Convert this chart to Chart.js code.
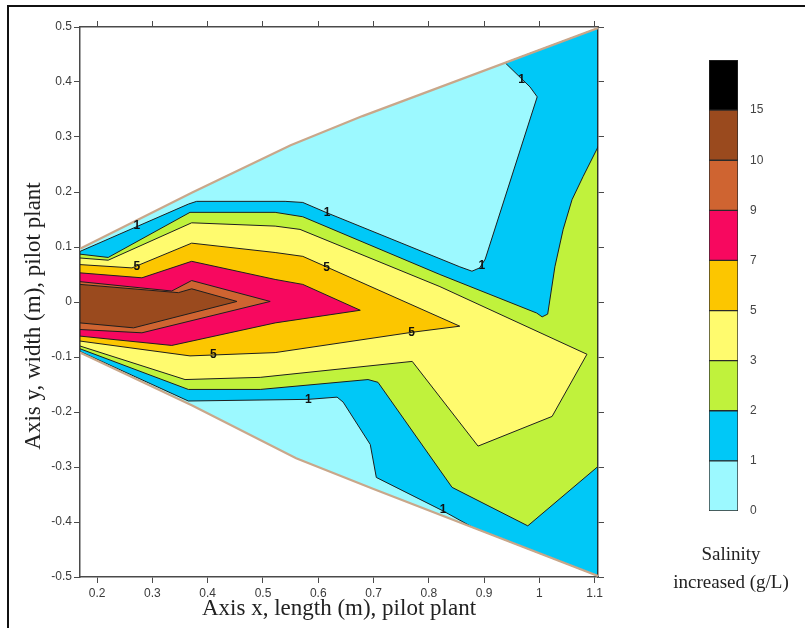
<!DOCTYPE html>
<html>
<head>
<meta charset="utf-8">
<script src="https://cdn.jsdelivr.net/npm/chart.js@4.4.1/dist/chart.umd.min.js"></script>
<style>
  html, body { margin: 0; padding: 0; background: #fff; }
  #wrap { position: relative; width: 805px; height: 628px; overflow: hidden; }
  #frame { position: absolute; left: 7px; top: 5px; width: 900px; height: 700px;
           border-left: 2px solid #111; border-top: 2px solid #111; }
  #main { position: absolute; left: 0; top: 0; }
  #bar  { position: absolute; left: 650px; top: 40px; }
</style>
</head>
<body>
<div id="wrap">
  <div id="frame"></div>
  <canvas id="main" width="805" height="628"></canvas>
  <canvas id="bar" width="155" height="560"></canvas>
</div>
<script>
// ---- axes ----
const xTicks = [0.2, 0.3, 0.4, 0.5, 0.6, 0.7, 0.8, 0.9, 1, 1.1];
const yTicks = [-0.5, -0.4, -0.3, -0.2, -0.1, 0, 0.1, 0.2, 0.3, 0.4, 0.5];
const xRange = [0.169, 1.106];
const yRange = [-0.5, 0.5];

// ---- salinity classes (g/L) ----
const levels = [0, 1, 2, 3, 5, 7, 9, 10, 15];

// plant outline (x, y in m): upper wall, then lower wall back to the inlet
const upperWall = [[0.169, 0.097], [0.372, 0.199], [0.55, 0.285], [0.68, 0.338], [1.106, 0.498]];
const lowerWall = [[1.106, -0.498], [0.70, -0.340], [0.56, -0.284], [0.372, -0.188], [0.169, -0.092]];

// iso-salinity areas: region where salinity >= level
const above1 = [
  [0.938, 0.435], [1.106, 0.498], [1.106, -0.498], [0.88, -0.41],
  [0.826, -0.38], [0.705, -0.319], [0.694, -0.259], [0.645, -0.182],
  [0.634, -0.173], [0.582, -0.177], [0.365, -0.180], [0.169, -0.090],
  [0.169, 0.092], [0.365, 0.178], [0.38, 0.183], [0.54, 0.183],
  [0.572, 0.181], [0.616, 0.162], [0.856, 0.064], [0.878, 0.056],
  [0.892, 0.062], [0.902, 0.078], [0.996, 0.373], [0.983, 0.391]
];
const above2 = [
  [0.169, 0.087], [0.220, 0.081], [0.368, 0.163], [0.522, 0.163],
  [0.572, 0.155], [0.820, 0.050], [0.995, -0.020], [1.005, -0.027],
  [1.015, -0.022], [1.028, 0.064], [1.043, 0.132], [1.059, 0.186],
  [1.079, 0.228], [1.106, 0.282], [1.106, -0.299], [0.979, -0.407],
  [0.842, -0.337], [0.708, -0.146], [0.690, -0.141], [0.495, -0.159],
  [0.365, -0.159], [0.169, -0.085]
];
const above3 = [
  [0.169, 0.080], [0.220, 0.076], [0.371, 0.144], [0.522, 0.138],
  [0.567, 0.132], [0.820, 0.028], [1.086, -0.095], [1.023, -0.208],
  [0.889, -0.262], [0.770, -0.108], [0.495, -0.137], [0.359, -0.141],
  [0.169, -0.080]
];
const above5 = [
  [0.169, 0.068], [0.263, 0.062], [0.371, 0.107], [0.522, 0.090],
  [0.572, 0.083], [0.856, -0.044], [0.770, -0.055], [0.522, -0.092],
  [0.368, -0.098], [0.169, -0.071]
];
const above7 = [
  [0.169, 0.053], [0.281, 0.044], [0.371, 0.074], [0.522, 0.041],
  [0.572, 0.032], [0.676, -0.015], [0.522, -0.038], [0.335, -0.079],
  [0.169, -0.062]
];
const above9 = [
  [0.169, 0.037], [0.335, 0.020], [0.371, 0.039], [0.513, 0.001],
  [0.281, -0.056], [0.169, -0.050]
];
const above10 = [
  [0.169, 0.032], [0.347, 0.017], [0.371, 0.024], [0.453, 0.001],
  [0.266, -0.047], [0.169, -0.038]
];

// contour value labels
const contourLabels = [
  ['1', 0.272, 0.138], ['1', 0.616, 0.163], ['1', 0.968, 0.404],
  ['1', 0.896, 0.066], ['1', 0.582, -0.177], ['1', 0.826, -0.377],
  ['5', 0.272, 0.064], ['5', 0.615, 0.062], ['5', 0.769, -0.056],
  ['5', 0.410, -0.095]
];

// ---- colours ----
const classColors = ['#9cf9ff', '#00c8f7', '#c0f23c', '#fffb6e', '#fcc600',
                     '#f7085f', '#cf6431', '#9a4a1e', '#000000'];

const toXY = pts => pts.map(([x, y]) => ({ x, y }));
const closed = poly => toXY(poly.concat([poly[0]]));

const domain = upperWall.concat(lowerWall);
const areas = [domain, above1, above2, above3, above5, above7, above9, above10];

const datasets = areas.map((poly, i) => ({
  data: closed(poly),
  backgroundColor: classColors[i],
  borderColor: i === 0 ? 'rgba(0,0,0,0)' : '#1e1e1e',
  borderWidth: i === 0 ? 0 : 1,
  fill: 'shape',
  pointRadius: 0,
  tension: 0,
  order: 20 - i
}));
// walls of the plant
[upperWall, lowerWall.slice().reverse()].forEach(wall => {
  datasets.push({
    data: toXY(wall),
    borderColor: '#c9a78a', borderWidth: 2.2, fill: false, pointRadius: 0, order: 0
  });
});

const tickFont = { family: "'Liberation Sans Narrow', 'Liberation Sans', Arial, sans-serif", size: 12 };
const serif = "'Liberation Serif', 'Times New Roman', serif";
const fmt = v => (v === 0 ? '0' : String(v));

function axis(position, values, range, showLabels, fit) {
  return {
    type: 'linear',
    position,
    min: range[0],
    max: range[1],
    afterBuildTicks: s => { s.ticks = values.map(v => ({ value: v })); },
    afterFit: fit,
    ticks: {
      display: showLabels,
      font: tickFont,
      color: '#3a3a3a',
      padding: 2,
      maxRotation: 0,
      autoSkip: false,
      callback: v => fmt(v)
    },
    grid: { drawOnChartArea: false, drawTicks: true, tickLength: 6, color: '#4a4a4a', lineWidth: 1 },
    border: { display: true, color: '#4a4a4a', width: 1.5 }
  };
}

const labelPlugin = {
  id: 'contourValues',
  afterDatasetsDraw(chart) {
    const { ctx, scales } = chart;
    ctx.save();
    ctx.font = "bold 12px 'Liberation Sans', Arial, sans-serif";
    ctx.fillStyle = '#111';
    ctx.textAlign = 'center';
    ctx.textBaseline = 'middle';
    contourLabels.forEach(([t, x, y]) => {
      ctx.fillText(t, scales.x.getPixelForValue(x), scales.y.getPixelForValue(y));
    });
    ctx.restore();
  },
  afterDraw(chart) {
    // y axis caption
    const ctx = chart.ctx;
    ctx.save();
    ctx.translate(34, 316);
    ctx.rotate(-Math.PI / 2);
    ctx.font = '23px ' + serif;
    ctx.fillStyle = '#222';
    ctx.textAlign = 'center';
    ctx.textBaseline = 'middle';
    ctx.fillText('Axis y, width (m), pilot plant', 0, 0);
    ctx.restore();
  }
};

const xAxis = axis('bottom', xTicks, xRange, true, s => { s.height = 51; });
xAxis.ticks.padding = 3;
xAxis.title = { display: true, text: 'Axis x, length (m), pilot plant', color: '#222',
                font: { family: serif, size: 23 },
                padding: { top: 0, bottom: 5 } };
const yAxis = axis('left', yTicks, yRange, true, s => { s.width = 80; });

new Chart(document.getElementById('main'), {
  type: 'line',
  data: { datasets },
  options: {
    responsive: false,
    animation: false,
    layout: { padding: 0 },
    plugins: { legend: { display: false }, tooltip: { enabled: false } },
    scales: {
      x: xAxis,
      y: yAxis,
      x2: axis('top', xTicks, xRange, false, s => { s.height = 27; }),
      y2: axis('right', yTicks, yRange, false, s => { s.width = 207; })
    }
  },
  plugins: [labelPlugin]
});

// ---- colour scale ----
const captionPlugin = {
  id: 'caption',
  afterDraw(chart) {
    const ctx = chart.ctx;
    ctx.save();
    ctx.font = '19px ' + serif;
    ctx.fillStyle = '#222';
    ctx.textAlign = 'center';
    ctx.textBaseline = 'middle';
    ctx.fillText('Salinity', 81, 515);
    ctx.fillText('increased (g/L)', 81, 543);
    ctx.restore();
  }
};

new Chart(document.getElementById('bar'), {
  type: 'bar',
  data: {
    labels: [''],
    datasets: levels.map((lv, i) => ({
      data: [[i, i + 1]],
      backgroundColor: classColors[i],
      borderColor: '#2a2a2a',
      borderWidth: 1,
      borderSkipped: false,
      barPercentage: 1,
      categoryPercentage: 1,
      grouped: false
    }))
  },
  options: {
    responsive: false,
    animation: false,
    layout: { padding: { left: 59, top: 20, right: 0, bottom: 0 } },
    plugins: { legend: { display: false }, tooltip: { enabled: false } },
    scales: {
      x: {
        afterFit: s => { s.height = 89; },
        grid: { display: false },
        border: { display: false },
        ticks: { display: false }
      },
      y: {
        position: 'right',
        min: 0,
        max: levels.length,
        afterBuildTicks: s => { s.ticks = levels.map((v, i) => ({ value: i })); },
        afterFit: s => { s.width = 67; },
        grid: { display: false },
        border: { display: false },
        ticks: {
          padding: 4,
          color: '#444',
          font: { family: "'Liberation Sans', Arial, sans-serif", size: 12 },
          callback: v => String(levels[v])
        }
      }
    }
  },
  plugins: [captionPlugin]
});
</script>
</body>
</html>
